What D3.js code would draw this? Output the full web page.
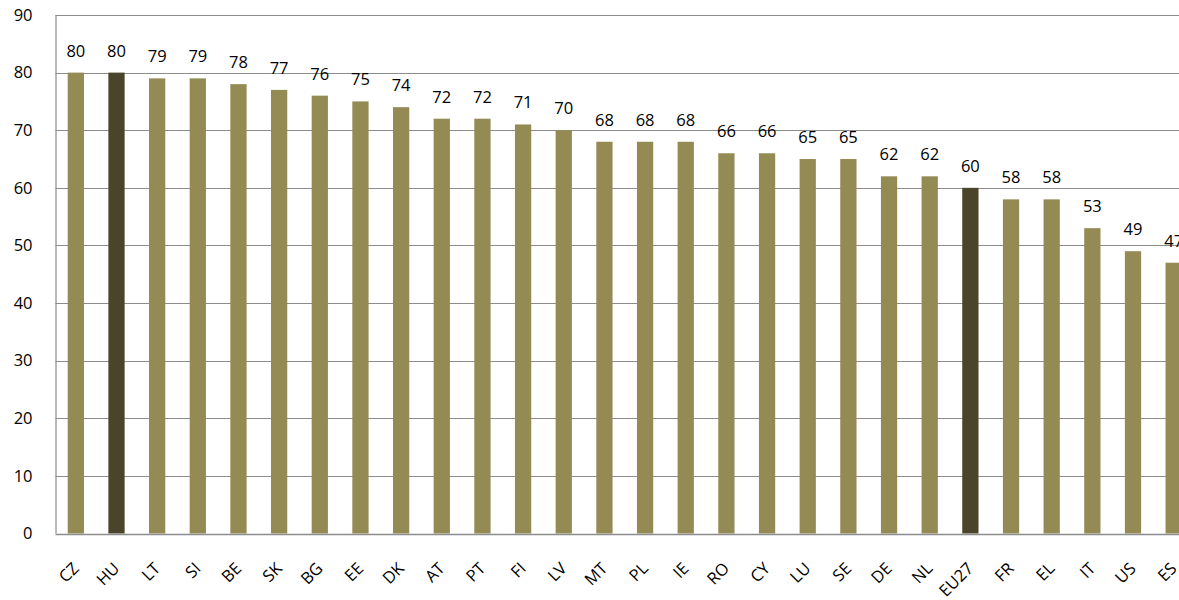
<!DOCTYPE html>
<html>
<head>
<meta charset="utf-8">
<script src="https://cdn.jsdelivr.net/npm/d3@7"></script>
<style>
  html, body { margin: 0; padding: 0; background: #fff; }
  svg { display: block; }
  text { font-family: "Open Sans", "Noto Sans", sans-serif; fill: #000; }
</style>
</head>
<body>
<svg id="chart" width="1179" height="600"></svg>
<script>
// Country codes in chart order
const categories = ["CZ","HU","LT","SI","BE","SK","BG","EE","DK","AT","PT","FI","LV","MT",
                    "PL","IE","RO","CY","LU","SE","DE","NL","EU27","FR","EL","IT","US","ES"];
// Percentage per country
const values = [80,80,79,79,78,77,76,75,74,72,72,71,70,68,68,68,66,66,65,65,62,62,60,58,58,53,49,47];
// Highlighted bars (drawn in the darker shade)
const highlighted = ["HU","EU27"];
// Y-axis ticks
const yTicks = [0,10,20,30,40,50,60,70,80,90];

const svg = d3.select("#chart");
const plotLeft = 55.5, plotRight = 1194, plotTop = 15, plotBottom = 533.5;

const x = d3.scaleBand()
  .domain(categories)
  .range([plotLeft, plotRight])
  .paddingInner(0.6)
  .paddingOuter(0.3);

const y = d3.scaleLinear().domain([0, 90]).range([plotBottom, plotTop]);

const gridColor = "#8c8c8c";

// Horizontal gridlines
svg.append("g")
  .selectAll("line")
  .data(yTicks.filter(d => d > 0))
  .join("line")
  .attr("x1", plotLeft).attr("x2", plotRight)
  .attr("y1", d => Math.round(y(d)) + 0.5).attr("y2", d => Math.round(y(d)) + 0.5)
  .attr("stroke", gridColor).attr("stroke-width", 1.2);

// Bars
svg.append("g")
  .selectAll("rect")
  .data(categories)
  .join("rect")
  .attr("x", d => x(d))
  .attr("width", x.bandwidth())
  .attr("y", (d, i) => y(values[i]))
  .attr("height", (d, i) => y(0) - y(values[i]))
  .attr("fill", d => highlighted.includes(d) ? "#4a452a" : "#948a54");

// Value labels above bars
svg.append("g")
  .selectAll("text")
  .data(categories)
  .join("text")
  .attr("x", d => x(d) + x.bandwidth() / 2)
  .attr("y", (d, i) => y(values[i]) - 16)
  .attr("text-anchor", "middle")
  .attr("font-size", 16.5)
  .text((d, i) => values[i]);

// Left axis
const yAxis = svg.append("g")
  .attr("transform", `translate(${plotLeft},0)`)
  .call(d3.axisLeft(y).tickValues(yTicks).tickSize(0).tickPadding(23));
yAxis.select(".domain").attr("stroke", gridColor).attr("stroke-width", 1.2).attr("d", `M0.5,${plotTop}V${plotBottom}`);
yAxis.selectAll("text").attr("font-size", 16.5).attr("font-family", "Open Sans, sans-serif").attr("fill", "#000");

// Bottom axis
const xAxis = svg.append("g")
  .attr("transform", `translate(0,${Math.round(y(0)) + 0.5})`)
  .call(d3.axisBottom(x).tickSize(0).tickPadding(0));
xAxis.select(".domain").attr("stroke", gridColor).attr("stroke-width", 1.5).attr("d", `M${plotLeft},0H${plotRight}`);
xAxis.selectAll("text")
  .attr("font-size", 16.5)
  .attr("font-family", "Open Sans, sans-serif")
  .attr("fill", "#000")
  .attr("text-anchor", "end")
  .attr("dy", 0)
  .attr("transform", "translate(4,35) rotate(-45)");
</script>
</body>
</html>
